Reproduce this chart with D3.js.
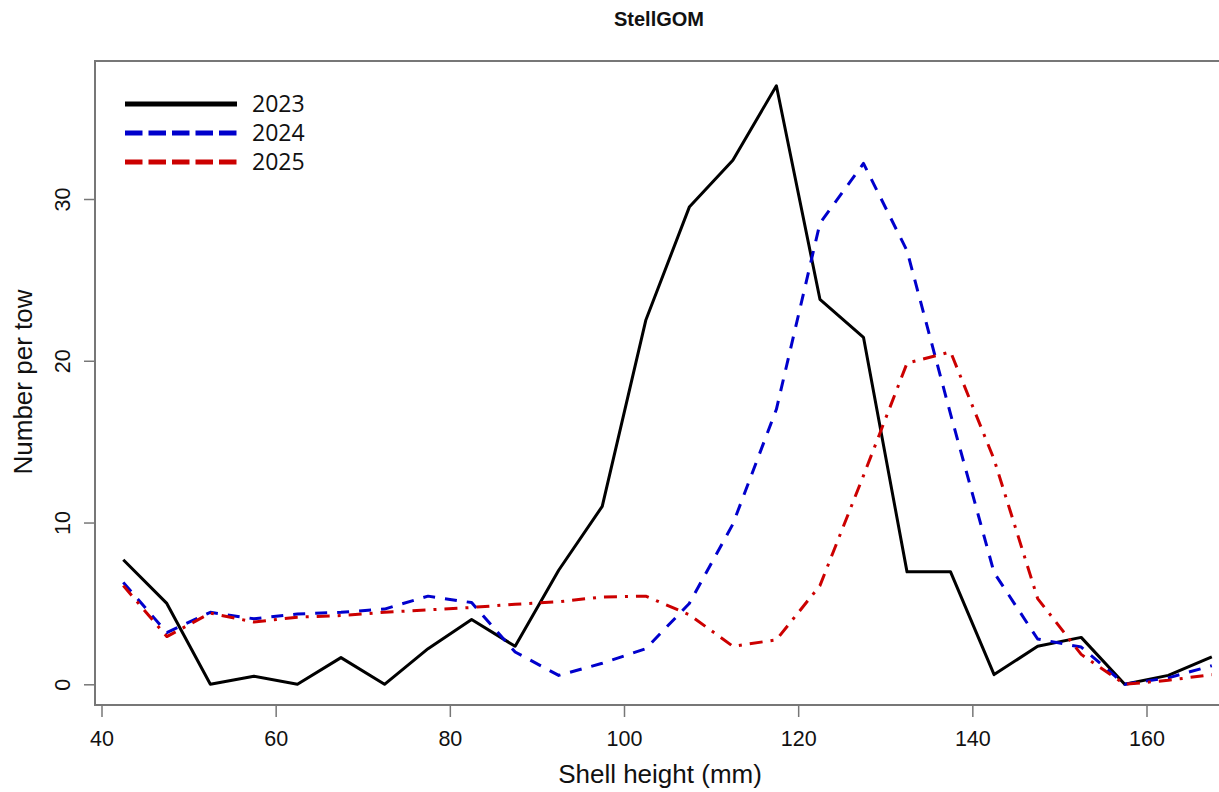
<!DOCTYPE html>
<html>
<head>
<meta charset="utf-8">
<script src="https://cdn.jsdelivr.net/npm/d3@7"></script>
<style>
  html, body { margin: 0; padding: 0; background: #fff; }
  svg text { fill: #111; }
</style>
</head>
<body>
<div id="chart"></div>
<script>

// Shell height bins (mm, bin mid points)
var shellHeights = [42.5, 47.5, 52.5, 57.5, 62.5, 67.5, 72.5, 77.5, 82.5, 87.5, 92.5, 97.5, 102.5,
                    107.5, 112.5, 117.5, 122.5, 127.5, 132.5, 137.5, 142.5, 147.5, 152.5, 157.5, 162.5, 167.5];

// Number per tow, one array per survey year
var perTow2023 = [7.7, 5.0, 0.0, 0.5, 0.0, 1.65, 0.0, 2.2, 4.0, 2.35, 7.05, 11.0, 22.5,
                  29.5, 32.4, 37.0, 23.8, 21.45, 6.95, 6.95, 0.6, 2.35, 2.9, 0.0, 0.55, 1.7];
var perTow2024 = [6.3, 3.2, 4.45, 4.05, 4.35, 4.45, 4.65, 5.45, 5.05, 2.0, 0.55, 1.3, 2.2,
                  5.0, 9.9, 17.0, 28.5, 32.2, 26.8, 16.7, 6.9, 2.8, 2.3, 0.0, 0.4, 1.15];
var perTow2025 = [6.1, 2.95, 4.4, 3.85, 4.15, 4.25, 4.45, 4.6, 4.75, 4.95, 5.1, 5.4, 5.45,
                  4.3, 2.35, 2.75, 6.1, 12.9, 19.85, 20.55, 13.9, 5.3, 1.85, 0.0, 0.25, 0.6];

var years = ['2023', '2024', '2025'];

var xTicks = [40, 60, 80, 100, 120, 140, 160];
var yTicks = [0, 10, 20, 30];


var width = 1219
  , height = 792;

var svg = d3.select('#chart').append('svg')
    .attr('width', width)
    .attr('height', height);

var x = d3.scaleLinear()
    .domain([40, 160])
    .range([101.5, 1146.5]);

var y = d3.scaleLinear()
    .domain([0, 30])
    .range([684.3, 199]);

// plot frame, the right side runs off the picture
var box = { left: 95, top: 61, right: 1240, bottom: 705 };

var series = [
    { name: years[0], values: perTow2023, color: '#000000', dash: null,           legendDash: null }
  , { name: years[1], values: perTow2024, color: '#0000cc', dash: '12,10',        legendDash: '17.5,6' }
  , { name: years[2], values: perTow2025, color: '#cc0000', dash: '13,8,3,8',     legendDash: '17.5,6' }
];


/**
 * Title
 */
svg.append('text')
    .attr('x', 659)
    .attr('y', 26)
    .attr('text-anchor', 'middle')
    .style('font-family', '"Liberation Sans", Arial, sans-serif')
    .style('font-weight', 'bold')
    .style('font-size', '20px')
    .text('StellGOM');


/**
 * Axes (R style: ticks outside the box)
 */
var xAxis = d3.axisBottom(x)
    .tickValues(xTicks)
    .tickSize(11)
    .tickPadding(14)
    .tickFormat(d3.format('d'));

var gx = svg.append('g')
    .attr('transform', 'translate(0,' + (box.bottom + 1) + ')')
    .call(xAxis);

var yAxis = d3.axisLeft(y)
    .tickValues(yTicks)
    .tickSize(11)
    .tickPadding(0)
    .tickFormat(d3.format('d'));

var gy = svg.append('g')
    .attr('transform', 'translate(' + box.left + ',0)')
    .call(yAxis);

// no axis spine, the box does that
svg.selectAll('.domain').remove();

svg.selectAll('.tick line')
    .attr('stroke', '#777')
    .attr('stroke-width', 1.5);

svg.selectAll('.tick text')
    .style('font-family', '"Liberation Sans", Arial, sans-serif')
    .style('font-size', '21.5px')
    .attr('fill', '#111');

// y tick labels are vertical like in R
gy.selectAll('.tick text')
    .attr('text-anchor', 'middle')
    .attr('transform', 'translate(-33,0) rotate(-90)')
    .attr('x', 0)
    .attr('dy', '0.35em');


/**
 * Axis titles
 */
svg.append('text')
    .attr('x', 660)
    .attr('y', 783)
    .attr('text-anchor', 'middle')
    .style('font-family', '"Liberation Sans", Arial, sans-serif')
    .style('font-size', '26px')
    .text('Shell height (mm)');

svg.append('text')
    .attr('transform', 'translate(32,382) rotate(-90)')
    .attr('text-anchor', 'middle')
    .style('font-family', '"Liberation Sans", Arial, sans-serif')
    .style('font-size', '26px')
    .text('Number per tow');


/**
 * Lines
 */
var line = d3.line()
    .x(function(d, i) { return x(shellHeights[i]); })
    .y(function(d) { return y(d); });

svg.append('g')
    .selectAll('path')
    .data(series)
  .enter().append('path')
    .attr('d', function(d) { return line(d.values); })
    .attr('fill', 'none')
    .attr('stroke', function(d) { return d.color; })
    .attr('stroke-width', 3)
    .attr('stroke-linejoin', 'round')
    .attr('stroke-dasharray', function(d) { return d.dash; });


/**
 * Box
 */
svg.append('rect')
    .attr('x', box.left)
    .attr('y', box.top)
    .attr('width', box.right - box.left)
    .attr('height', box.bottom - box.top)
    .attr('fill', 'none')
    .attr('stroke', '#777')
    .attr('stroke-width', 2);


/**
 * Legend
 */
var legend = svg.append('g')
    .selectAll('g')
    .data(series)
  .enter().append('g')
    .attr('transform', function(d, i) { return 'translate(125,' + (104 + i * 29) + ')'; });

legend.append('line')
    .attr('x1', 0)
    .attr('x2', 112)
    .attr('stroke', function(d) { return d.color; })
    .attr('stroke-width', 5)
    .attr('stroke-dasharray', function(d) { return d.legendDash; });

legend.append('text')
    .attr('x', 127)
    .attr('dy', '0.36em')
    .style('font-family', '"Open Sans", sans-serif')
    .style('font-size', '23px')
    .text(function(d) { return d.name; });

</script>
</body>
</html>
